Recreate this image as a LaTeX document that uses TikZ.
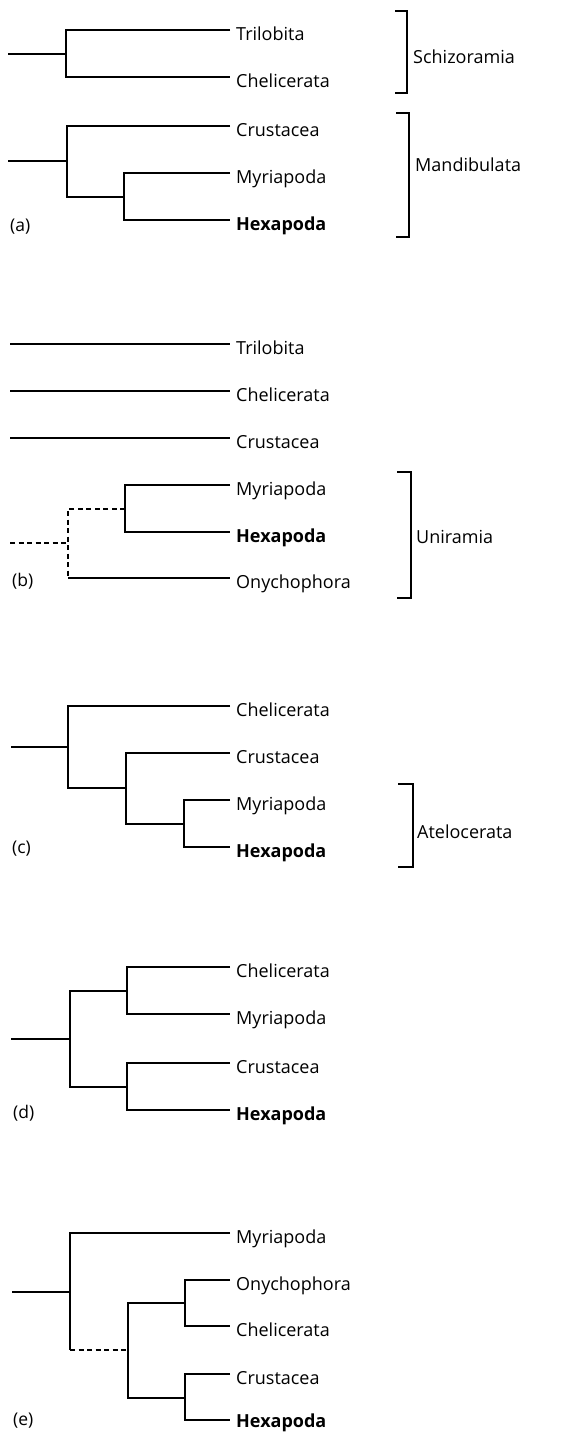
\documentclass[tikz,border=0pt]{standalone}
\usepackage{fontspec}
\setmainfont{Open Sans}
\begin{document}
\begin{tikzpicture}[x=1pt,y=-1pt,
  br/.style={line width=2pt},
  dsh/.style={line width=2pt, dash pattern=on 5pt off 3.5pt},
  taxon/.style={anchor=base west, inner sep=0pt, font=\fontsize{18}{21}\selectfont},
  btaxon/.style={taxon, font=\fontsize{18}{21}\selectfont\bfseries},
  plabel/.style={anchor=base west, inner sep=0pt, font=\fontsize{17.5}{20}\selectfont},
  bracket/.style={line width=2pt}]
\useasboundingbox (0,0) rectangle (564,1432);
% ---------------- (a) ----------------
\coordinate (a-r1) at (8,53.5);
\coordinate (a-n1) at (66,53.5);
\coordinate (a-t1) at (230,30);
\coordinate (a-t2) at (230,77);
\node[taxon] (a-l1) at (236,40.5) {Trilobita};
\node[taxon] (a-l2) at (236,87.5) {Chelicerata};
\draw[br] (a-r1) -- (a-n1);
\draw[br] (a-t1) -| (a-n1) |- (a-t2);
\coordinate (a-r2) at (8,161);
\coordinate (a-n2) at (67,161);
\coordinate (a-n3) at (124,196.5);
\coordinate (a-t3) at (230,126);
\coordinate (a-t4) at (230,173);
\coordinate (a-t5) at (230,220);
\node[taxon] (a-l3) at (236,136.5) {Crustacea};
\node[taxon] (a-l4) at (236,183.5) {Myriapoda};
\node[btaxon] (a-l5) at (236,230.5) {Hexapoda};
\draw[br] (a-r2) -- (a-n2);
\draw[br] (a-t3) -| (a-n2) |- (a-n3);
\draw[br] (a-t4) -| (a-n3) |- (a-t5);
\node[plabel] (a-p) at (10,231) {(a)};
\draw[bracket] (395,11) coordinate (a-b1) -- (407,11) -- (407,93) -- (395,93) coordinate (a-b2);
\node[taxon] (a-s) at (413,63) {Schizoramia};
\draw[bracket] (396,113) coordinate (a-b3) -- (409,113) -- (409,237) -- (396,237) coordinate (a-b4);
\node[taxon] (a-m) at (415,171) {Mandibulata};
% ---------------- (b) ----------------
\coordinate (b-s1) at (10,344);
\coordinate (b-s2) at (10,391);
\coordinate (b-s3) at (10,438);
\coordinate (b-t1) at (230,344);
\coordinate (b-t2) at (230,391);
\coordinate (b-t3) at (230,438);
\coordinate (b-t4) at (230,485);
\coordinate (b-t5) at (230,532);
\coordinate (b-t6) at (230,578);
\node[taxon] (b-l1) at (236,354.5) {Trilobita};
\node[taxon] (b-l2) at (236,401.5) {Chelicerata};
\node[taxon] (b-l3) at (236,448.5) {Crustacea};
\node[taxon] (b-l4) at (236,495.5) {Myriapoda};
\node[btaxon] (b-l5) at (236,542.5) {Hexapoda};
\node[taxon] (b-l6) at (236,588.5) {Onychophora};
\draw[br] (b-s1) -- (b-t1);
\draw[br] (b-s2) -- (b-t2);
\draw[br] (b-s3) -- (b-t3);
\coordinate (b-n2) at (125,508.5);
\coordinate (b-n1) at (68,508.5);
\coordinate (b-n1b) at (68,578);
\coordinate (b-r) at (10,543);
\coordinate (b-rn) at (68,543);
\draw[br] (b-t4) -| (b-n2) |- (b-t5);
\draw[dsh] (b-n2) -- (b-n1) -- (b-n1b);
\draw[br] (b-n1b) -- (b-t6);
\draw[dsh] (b-r) -- (b-rn);
\node[plabel] (b-p) at (12,586) {(b)};
\draw[bracket] (397,472) coordinate (b-b1) -- (411,472) -- (411,598) -- (397,598) coordinate (b-b2);
\node[taxon] (b-u) at (416,543) {Uniramia};
% ---------------- (c) ----------------
\coordinate (c-r) at (11,747);
\coordinate (c-n1) at (68,747);
\coordinate (c-n2) at (126,788);
\coordinate (c-n3) at (184,823.5);
\coordinate (c-t1) at (230,706);
\coordinate (c-t2) at (230,753);
\coordinate (c-t3) at (230,800);
\coordinate (c-t4) at (230,847);
\node[taxon] (c-l1) at (236,716.5) {Chelicerata};
\node[taxon] (c-l2) at (236,763.5) {Crustacea};
\node[taxon] (c-l3) at (236,810.5) {Myriapoda};
\node[btaxon] (c-l4) at (236,857.5) {Hexapoda};
\draw[br] (c-r) -- (c-n1);
\draw[br] (c-t1) -| (c-n1) |- (c-n2);
\draw[br] (c-t2) -| (c-n2) |- (c-n3);
\draw[br] (c-t3) -| (c-n3) |- (c-t4);
\node[plabel] (c-p) at (12,853) {(c)};
\draw[bracket] (398,784) coordinate (c-b1) -- (413,784) -- (413,867) -- (398,867) coordinate (c-b2);
\node[taxon] (c-a) at (417,838) {Atelocerata};
% ---------------- (d) ----------------
\coordinate (d-r) at (11,1038.5);
\coordinate (d-n0) at (70,1038.5);
\coordinate (d-n1) at (127,990.5);
\coordinate (d-n2) at (127,1086.5);
\coordinate (d-t1) at (230,967);
\coordinate (d-t2) at (230,1014);
\coordinate (d-t3) at (230,1063);
\coordinate (d-t4) at (230,1110);
\node[taxon] (d-l1) at (236,977.5) {Chelicerata};
\node[taxon] (d-l2) at (236,1024.5) {Myriapoda};
\node[taxon] (d-l3) at (236,1073.5) {Crustacea};
\node[btaxon] (d-l4) at (236,1120.5) {Hexapoda};
\draw[br] (d-r) -- (d-n0);
\draw[br] (d-n1) -| (d-n0) |- (d-n2);
\draw[br] (d-t1) -| (d-n1) |- (d-t2);
\draw[br] (d-t3) -| (d-n2) |- (d-t4);
\node[plabel] (d-p) at (13,1118) {(d)};
% ---------------- (e) ----------------
\coordinate (e-r) at (12,1291.5);
\coordinate (e-n0) at (70,1291.5);
\coordinate (e-n0b) at (70,1350);
\coordinate (e-n1) at (128,1350);
\coordinate (e-nA) at (185,1303);
\coordinate (e-nB) at (185,1397.5);
\coordinate (e-t1) at (230,1233);
\coordinate (e-t2) at (230,1280);
\coordinate (e-t3) at (230,1326);
\coordinate (e-t4) at (230,1374);
\coordinate (e-t5) at (230,1420);
\node[taxon] (e-l1) at (236,1243.5) {Myriapoda};
\node[taxon] (e-l2) at (236,1290.5) {Onychophora};
\node[taxon] (e-l3) at (236,1336.5) {Chelicerata};
\node[taxon] (e-l4) at (236,1384.5) {Crustacea};
\node[btaxon] (e-l5) at (236,1427) {Hexapoda};
\draw[br] (e-r) -- (e-n0);
\draw[br] (e-t1) -| (e-n0) -- (e-n0b);
\draw[dsh] (e-n0b) -- (e-n1);
\draw[br] (e-nA) -| (e-n1) |- (e-nB);
\draw[br] (e-t2) -| (e-nA) |- (e-t3);
\draw[br] (e-t4) -| (e-nB) |- (e-t5);
\node[plabel] (e-p) at (13,1425) {(e)};
\end{tikzpicture}
\end{document}
